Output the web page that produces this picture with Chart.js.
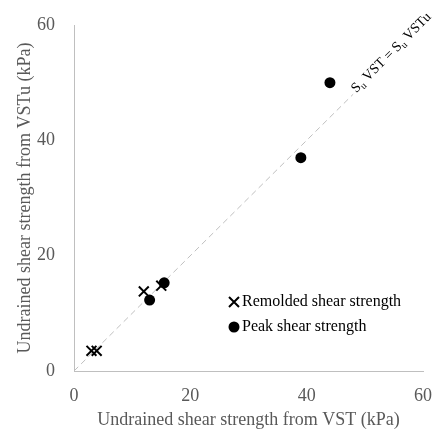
<!DOCTYPE html>
<html>
<head>
<meta charset="utf-8">
<script src="https://cdn.jsdelivr.net/npm/chart.js@4.4.0/dist/chart.umd.min.js"></script>
<style>
  html, body { margin: 0; padding: 0; background: #fff; }
  #wrap { width: 441px; height: 435px; }
</style>
</head>
<body>
<div id="wrap"><canvas id="c" width="441" height="435"></canvas></div>
<script>
// values (kPa)
const peakVST = [44, 39, 15.5, 13]
const peakVSTu = [50, 37, 15.3, 12.3]
const remoldVST = [3, 3.9, 12, 15]
const remoldVSTu = [3.5, 3.5, 13.8, 14.8]
const lineX = [0, 48]
const lineY = [0, 48]
const tickValues = [0, 20, 40, 60]

const labels = ['Peak shear strength', 'Remolded shear strength']
const grey = '#595959'
const axisGrey = '#bfbfbf'
const serif = "'Liberation Serif', 'Times New Roman', serif"

const toPts = (xs, ys) => xs.map((x, i) => ({ x: x, y: ys[i] }))

// legend inside the plot + the 1:1 line label
const extras = {
  id: 'extras',
  afterDraw(chart) {
    const ctx = chart.ctx
    ctx.save()
    ctx.fillStyle = '#000'
    ctx.strokeStyle = '#000'
    ctx.font = '16px ' + serif
    ctx.textAlign = 'left'
    ctx.textBaseline = 'middle'

    // remolded (cross)
    const mx = 234
    let my = 302
    ctx.lineWidth = 2
    ctx.beginPath()
    ctx.moveTo(mx - 5, my - 5); ctx.lineTo(mx + 5, my + 5)
    ctx.moveTo(mx + 5, my - 5); ctx.lineTo(mx - 5, my + 5)
    ctx.stroke()
    ctx.fillText(labels[1], 242, my)

    // peak (dot)
    my = 327
    ctx.beginPath()
    ctx.arc(mx, my, 5.5, 0, Math.PI * 2)
    ctx.fill()
    ctx.fillText(labels[0], 242, my)

    // label along the dashed line
    const xs = chart.scales.x, ys = chart.scales.y
    const ax = xs.getPixelForValue(lineX[1]) + 3
    const ay = ys.getPixelForValue(lineY[1]) - 1
    ctx.translate(ax, ay)
    ctx.rotate(-Math.PI / 4)
    ctx.textBaseline = 'alphabetic'
    const big = '14px ' + serif, small = '10px ' + serif
    const parts = [['S', big, 0], ['u', small, 3], [' VST = S', big, 0], ['u', small, 3], [' VSTu', big, 0]]
    let px = 0
    parts.forEach(p => {
      ctx.font = p[1]
      ctx.fillText(p[0], px, p[2])
      px += ctx.measureText(p[0]).width
    })
    ctx.restore()
  }
}

new Chart(document.getElementById('c'), {
  type: 'scatter',
  data: {
    datasets: [
      {
        label: labels[0],
        data: toPts(peakVST, peakVSTu),
        pointStyle: 'circle',
        pointRadius: 5.5,
        pointHoverRadius: 5.5,
        backgroundColor: '#000',
        borderColor: '#000',
        borderWidth: 0
      },
      {
        label: labels[1],
        data: toPts(remoldVST, remoldVSTu),
        pointStyle: 'crossRot',
        pointRadius: 7,
        pointHoverRadius: 7,
        borderColor: '#000',
        borderWidth: 2
      },
      {
        label: '1:1',
        data: toPts(lineX, lineY),
        showLine: true,
        pointRadius: 0,
        borderColor: '#bfbfbf',
        borderWidth: 1,
        borderDash: [6, 4]
      }
    ]
  },
  options: {
    responsive: false,
    animation: false,
    layout: { padding: { top: 25, right: 18, left: 0, bottom: 0 } },
    plugins: {
      legend: { display: false },
      tooltip: { enabled: false }
    },
    scales: {
      x: {
        min: 0, max: 60,
        afterBuildTicks: s => { s.ticks = tickValues.map(v => ({ value: v })) },
        afterFit: s => { s.height = 64; s.paddingLeft = 0; s.paddingRight = 0 },
        grid: { drawOnChartArea: false, drawTicks: false },
        border: { display: true, color: axisGrey, width: 1 },
        ticks: { color: grey, font: { family: serif, size: 18 }, padding: 14 },
        title: { display: true, text: 'Undrained shear strength from VST (kPa)', color: grey, font: { family: serif, size: 18 }, padding: { top: 0, bottom: 4 } }
      },
      y: {
        min: 0, max: 60,
        afterBuildTicks: s => { s.ticks = tickValues.map(v => ({ value: v })) },
        afterFit: s => { s.width = 74; s.paddingTop = 0; s.paddingBottom = 0 },
        grid: { drawOnChartArea: false, drawTicks: false },
        border: { display: true, color: axisGrey, width: 1 },
        ticks: { color: grey, font: { family: serif, size: 18 }, padding: 19 },
        title: { display: true, text: 'Undrained shear strength from VSTu (kPa)', color: grey, font: { family: serif, size: 18 }, padding: { top: 14, bottom: 0 } }
      }
    }
  },
  plugins: [extras]
})
</script>
</body>
</html>
